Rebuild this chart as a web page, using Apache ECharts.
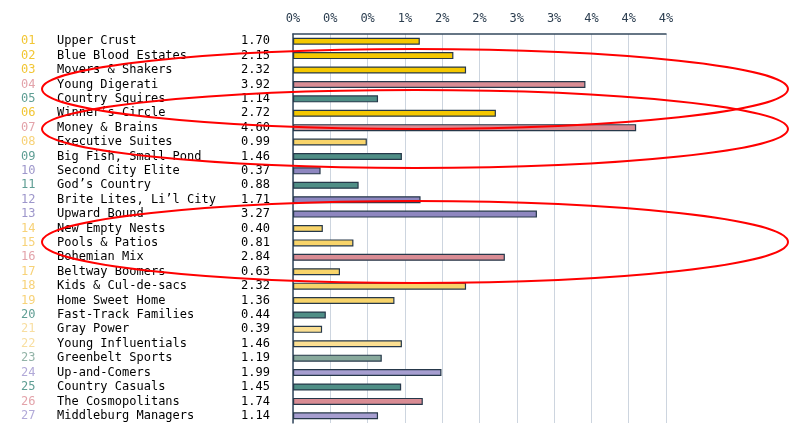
<!DOCTYPE html>
<html>
<head>
<meta charset="utf-8">
<script src="https://cdn.jsdelivr.net/npm/echarts@6/dist/echarts.min.js"></script>
<style>
  html, body { margin: 0; padding: 0; background: #fff; }
  #chart { width: 793px; height: 424px; }
</style>
</head>
<body>
<div id="chart"></div>
<script>
// segment codes, names and index values, top to bottom
const codes = ['01', '02', '03', '04', '05', '06', '07', '08', '09', '10', '11', '12', '13', '14',
  '15', '16', '17', '18', '19', '20', '21', '22', '23', '24', '25', '26', '27']
const segments = [
  'Upper Crust', 'Blue Blood Estates', 'Movers & Shakers', 'Young Digerati', 'Country Squires',
  'Winner’s Circle', 'Money & Brains', 'Executive Suites', 'Big Fish, Small Pond',
  'Second City Elite', 'God’s Country', 'Brite Lites, Li’l City', 'Upward Bound',
  'New Empty Nests', 'Pools & Patios', 'Bohemian Mix', 'Beltway Boomers', 'Kids & Cul-de-sacs',
  'Home Sweet Home', 'Fast-Track Families', 'Gray Power', 'Young Influentials',
  'Greenbelt Sports', 'Up-and-Comers', 'Country Casuals', 'The Cosmopolitans',
  'Middleburg Managers'
]
const values = [1.70, 2.15, 2.32, 3.92, 1.14, 2.72, 4.60, 0.99, 1.46, 0.37, 0.88, 1.71, 3.27,
  0.40, 0.81, 2.84, 0.63, 2.32, 1.36, 0.44, 0.39, 1.46, 1.19, 1.99, 1.45, 1.74, 1.14]
// social group of each segment (drives colour)
const groups = [0, 0, 0, 1, 2, 0, 1, 3, 2, 4, 2, 4, 4, 3, 3, 1, 3, 3, 3, 2, 5, 5, 6, 7, 2, 1, 7]
const tickLabels = ['0%', '0%', '0%', '1%', '2%', '2%', '3%', '3%', '4%', '4%', '4%']

// bar fill / code text colour per group
const barColors = ['#f5c800', '#d98c94', '#4f8e86', '#f8d46a', '#8e87c0', '#fbdf92', '#88a99c', '#a69ed0']
const codeColors = ['#f2c634', '#e3a3aa', '#5f9e94', '#f7d278', '#9d96cb', '#f8dea0', '#92b3a7', '#b1a9d8']

const mono = '"DejaVu Sans Mono", "Liberation Mono", monospace'

const rich = {
  name: { width: 170, align: 'left', color: '#000', fontFamily: mono, fontSize: 12 },
  val: { width: 43, align: 'right', color: '#000', fontFamily: mono, fontSize: 12 }
}
codeColors.forEach((c, i) => {
  rich['g' + i] = { width: 36, align: 'left', color: c, fontFamily: mono, fontSize: 12 }
})

// hand-drawn highlight loops
const loops = [
  { cx: 415, cy: 89, rx: 373, ry: 40 },
  { cx: 415, cy: 129, rx: 373, ry: 39 },
  { cx: 415, cy: 242, rx: 373, ry: 41 }
]

const chart = echarts.init(document.getElementById('chart'))

chart.setOption({
  animation: false,
  grid: { left: 293, right: 127, top: 34, bottom: 1 },
  xAxis: {
    type: 'value',
    position: 'top',
    min: 0,
    max: 5,
    interval: 0.5,
    axisLine: { show: true, lineStyle: { color: '#34495e', width: 1.5 } },
    axisTick: { show: false },
    axisLabel: {
      margin: 9,
      color: '#2c3e50',
      fontFamily: mono,
      fontSize: 12,
      formatter: v => tickLabels[Math.round(v / 0.5)]
    },
    splitLine: { show: true, lineStyle: { color: '#cdd5df', width: 1 } }
  },
  yAxis: {
    type: 'category',
    inverse: true,
    data: segments,
    axisLine: { show: true, lineStyle: { color: '#34495e', width: 1.5 } },
    axisTick: { show: false },
    axisLabel: {
      interval: 0,
      margin: 23,
      formatter: (name, i) => `{g${groups[i]}|${codes[i]}}{name|${name}}{val|${values[i].toFixed(2)}}`,
      rich: rich
    }
  },
  series: [{
    type: 'bar',
    barWidth: 7,
    data: values.map((v, i) => ({
      value: v,
      itemStyle: { color: barColors[groups[i]] }
    })),
    itemStyle: { borderColor: '#26384a', borderWidth: 1.2 }
  }],
  graphic: loops.map(l => ({
    type: 'ellipse',
    z: 100,
    silent: true,
    shape: l,
    style: { fill: 'none', stroke: '#ff0000', lineWidth: 2 }
  }))
})
</script>
</body>
</html>
